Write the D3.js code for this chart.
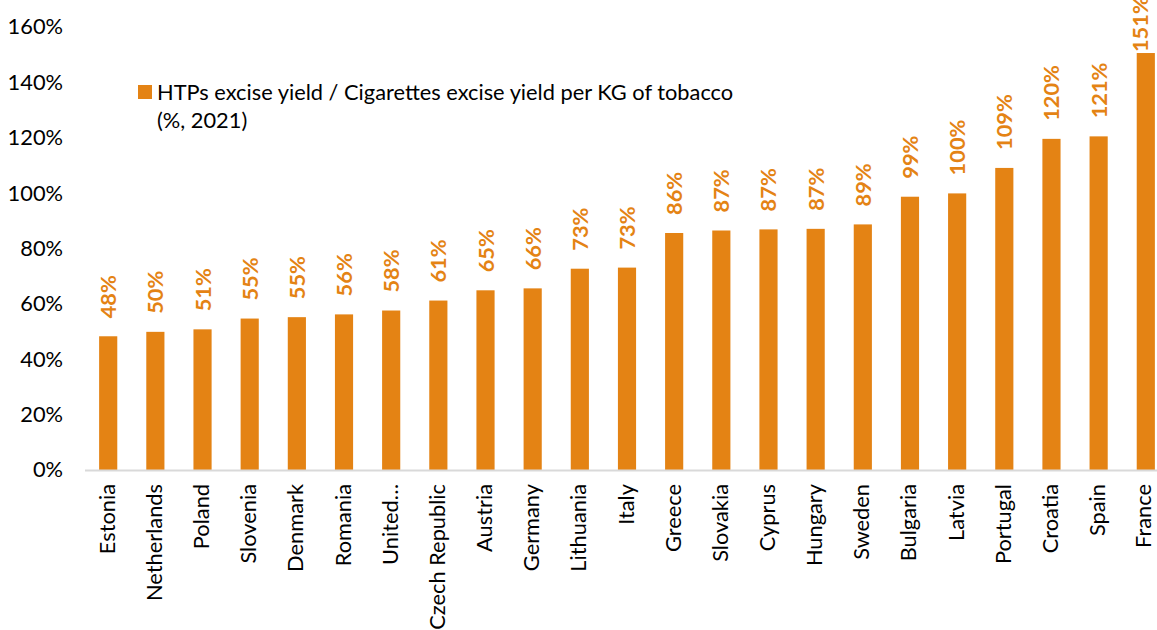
<!DOCTYPE html>
<html>
<head>
<meta charset="utf-8">
<script src="https://cdn.jsdelivr.net/npm/d3@7"></script>
<style>
  html, body { margin: 0; padding: 0; background: #fff; }
  svg { display: block; font-family: "Lato", "Open Sans", sans-serif; }
</style>
</head>
<body>
<svg id="chart" width="1157" height="630"></svg>
<script>
// HTPs excise yield relative to cigarettes, per KG of tobacco (2021)
const countries = ["Estonia", "Netherlands", "Poland", "Slovenia", "Denmark", "Romania",
  "United Kingdom", "Czech Republic", "Austria", "Germany", "Lithuania", "Italy", "Greece",
  "Slovakia", "Cyprus", "Hungary", "Sweden", "Bulgaria", "Latvia", "Portugal", "Croatia",
  "Spain", "France"];
const ratios = [0.483, 0.499, 0.508, 0.547, 0.552, 0.562, 0.576, 0.612, 0.649, 0.656,
  0.727, 0.731, 0.856, 0.865, 0.869, 0.871, 0.887, 0.987, 0.999, 1.091, 1.196, 1.205, 1.506];
const yTicks = [0, 0.2, 0.4, 0.6, 0.8, 1.0, 1.2, 1.4, 1.6];
const legendLines = ["HTPs excise yield / Cigarettes excise yield per KG of tobacco", "(%, 2021)"];

const orange = "#E48314";
const fontSize = 21.8;
const width = 1157;
const svg = d3.select("#chart");

const x = d3.scaleBand()
  .domain(countries)
  .range([84.5, 1169.5])
  .paddingInner(0.615)
  .paddingOuter(0.31);

const y = d3.scaleLinear()
  .domain([0, 1.6])
  .range([470, 27]);

const pct = d3.format(".0%");

// y axis labels (no axis line, no ticks)
const yAxis = svg.append("g")
  .attr("transform", "translate(63,0)")
  .call(d3.axisLeft(y).tickValues(yTicks).tickFormat(pct).tickSize(0).tickPadding(0));
yAxis.select(".domain").remove();
yAxis.selectAll("text")
  .attr("font-family", "Lato, 'Open Sans', sans-serif")
  .attr("font-size", fontSize)
  .attr("fill", "#000");

// bars
svg.append("g").selectAll("rect")
  .data(countries)
  .join("rect")
  .attr("x", d => x(d))
  .attr("width", x.bandwidth())
  .attr("y", (d, i) => y(ratios[i]))
  .attr("height", (d, i) => y(0) - y(ratios[i]))
  .attr("fill", orange);

// baseline
svg.append("line")
  .attr("x1", 85).attr("x2", width)
  .attr("y1", y(0) + 0.5).attr("y2", y(0) + 0.5)
  .attr("stroke", "#D9D9D9")
  .attr("stroke-width", 2);

// value labels, rotated above each bar; kept inside the top and right edges
svg.append("g").selectAll("text")
  .data(countries)
  .join("text")
  .attr("text-anchor", "start")
  .attr("font-size", fontSize)
  .attr("font-weight", "bold")
  .attr("fill", orange)
  .text((d, i) => pct(ratios[i]))
  .attr("transform", function (d, i) {
    const len = this.getComputedTextLength();
    const top = y(ratios[i]);
    const start = Math.min(top - 1, Math.max(top - 18, len + 6));
    const bx = Math.min(x(d) + x.bandwidth() / 2 + 8, width - 9);
    return `translate(${bx},${start}) rotate(-90)`;
  });

// category labels
const shortName = d => d === "United Kingdom" ? "United…" : d;
svg.append("g").selectAll("text")
  .data(countries)
  .join("text")
  .attr("transform", d =>
    `translate(${Math.min(x(d) + x.bandwidth() / 2 + 6.5, width - 6)},484) rotate(-90)`)
  .attr("text-anchor", "end")
  .attr("font-size", fontSize)
  .attr("fill", "#000")
  .text(shortName);

// legend
svg.append("rect")
  .attr("x", 138).attr("y", 85)
  .attr("width", 14).attr("height", 14)
  .attr("fill", orange);
svg.append("g").selectAll("text")
  .data(legendLines)
  .join("text")
  .attr("x", 157)
  .attr("y", (d, i) => 100 + i * 28)
  .attr("font-size", fontSize)
  .attr("fill", "#000")
  .text(d => d);
</script>
</body>
</html>
